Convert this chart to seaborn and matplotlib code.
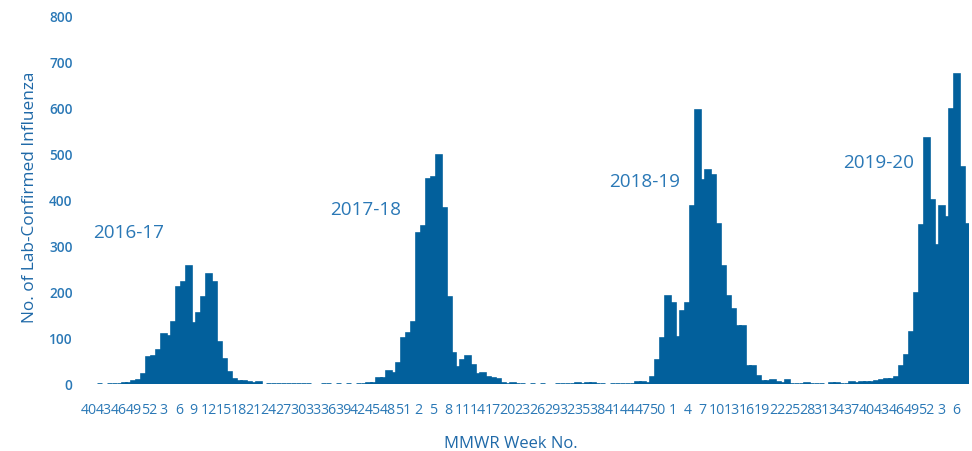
import matplotlib
matplotlib.use("Agg")
import matplotlib.pyplot as plt
import seaborn as sns
import pandas as pd

# MMWR week numbers, 2016 wk40 .. 2020 wk8
weeks = list(range(40, 53)) + list(range(1, 53)) * 3 + list(range(1, 9))

season_2016_17 = [0, 0, 1, 0, 1, 1, 1, 2, 3, 6,
                  9, 22, 58, 61, 73, 108, 105, 134, 211, 221,
                  257, 133, 154, 189, 240, 222, 91, 55, 26, 11,
                  6, 6, 5, 2, 4, 0, 1, 1, 1, 1,
                  1, 1, 1, 1, 1, 0, 0, 1, 1, 0, 1, 0]
season_2017_18 = [1, 0, 1, 1, 3, 3, 14, 14, 28, 25,
                  45, 101, 111, 135, 328, 343, 446, 450, 497, 382,
                  190, 68, 38, 53, 61, 42, 22, 25, 15, 14,
                  11, 2, 1, 2, 1, 1, 0, 1, 0, 1,
                  0, 0, 1, 1, 1, 1, 2, 1, 2, 2, 1, 1]
season_2018_19 = [0, 1, 1, 1, 1, 1, 4, 4, 2, 15,
                  53, 100, 191, 177, 102, 158, 177, 387, 596, 443,
                  466, 454, 347, 256, 191, 164, 126, 126, 40, 40,
                  17, 6, 6, 8, 4, 2, 8, 1, 1, 1,
                  3, 1, 1, 1, 0, 2, 2, 1, 1, 4, 2, 5]
season_2019_20 = [4, 4, 6, 8, 11, 11, 15, 40, 64, 112,
                  198, 346, 534, 401, 303, 386, 362, 597, 673, 472, 347]

season_labels = ["2016-17", "2017-18", "2018-19", "2019-20"]

cases = season_2016_17 + season_2017_18 + season_2018_19 + season_2019_20
df = pd.DataFrame({"pos": list(range(len(cases))), "week": weeks, "cases": cases})

BAR = "#02609c"
TXT = "#2a78b6"
TITLE = "#1f69a8"

sns.set_theme(style="white")
plt.rcParams["font.family"] = ["Open Sans", "DejaVu Sans"]

W, H = 972, 452
fig = plt.figure(figsize=(W / 100, H / 100), dpi=100)
x0_px, slot = 89.1, 4.985
left_px = x0_px - slot / 2
right_px = x0_px + (len(cases) - 0.5) * slot
top_px, base_px = 17, 385
ax = fig.add_axes([left_px / W, 1 - base_px / H,
                   (right_px - left_px) / W, (base_px - top_px) / H])

sns.barplot(data=df, x="pos", y="cases", color=BAR, saturation=1,
            width=1.0, linewidth=1.9, edgecolor=BAR, ax=ax)
for p in ax.patches:
    if p.get_height() == 0:
        p.set_visible(False)

ax.set_xlim(-0.5, len(cases) - 0.5)
ax.set_ylim(0, 800)
ax.set_yticks(range(0, 801, 100))
ax.set_yticklabels([str(v) for v in range(0, 801, 100)],
                   fontsize=9.8, fontweight="semibold", color=TXT)
tick_pos = list(range(0, len(cases), 3))
ax.set_xticks(tick_pos)
ax.set_xticklabels([str(weeks[i]) for i in tick_pos], fontsize=10.2,
                   fontweight="medium", color=TXT)
ax.tick_params(axis="y", length=0, pad=10)
ax.tick_params(axis="x", length=0, pad=13)
ax.set_xlabel("")
ax.set_ylabel("")
for s in ax.spines.values():
    s.set_visible(False)
ax.grid(False)

# season annotations (position in data coordinates)
ann_pos = [(0.84, 319), (48.3, 370), (104.4, 430), (151.3, 471)]
for lab, (xp, yp) in zip(season_labels, ann_pos):
    ax.text(xp, yp, lab, fontsize=13.6, color=TXT, ha="left", va="baseline")

fig.text(510.5 / W, 1 - 448.3 / H, "MMWR Week No.", fontsize=12, color=TITLE,
         ha="center", va="baseline")
fig.text(30 / W, 1 - 197.5 / H, "No. of Lab-Confirmed Influenza", fontsize=12.4,
         color=TITLE, rotation=90, ha="center", va="center")

fig.savefig("out.png", dpi=100, facecolor="white")
